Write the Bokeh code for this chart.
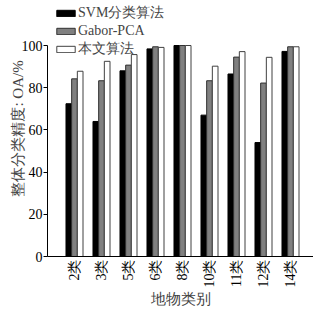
from bokeh.plotting import figure
from bokeh.models import ColumnDataSource, Range1d, FixedTicker, Legend, LegendItem
from bokeh.embed import file_html
from bokeh.resources import INLINE
import math

categories = ["2类", "3类", "5类", "6类", "8类", "10类", "11类", "12类", "14类"]
svm = [72.4, 64.0, 88.0, 98.4, 100.0, 67.0, 86.5, 54.0, 97.2]
gabor = [84.2, 83.3, 90.7, 99.4, 100.0, 83.3, 94.5, 82.2, 99.4]
ours = [87.8, 92.5, 95.7, 99.1, 100.0, 90.2, 97.1, 94.4, 99.4]
series_names = ["SVM分类算法", "Gabor-PCA", "本文算法"]
y_ticks = [0, 20, 40, 60, 80, 100]
x_title = "地物类别"
y_title = "整体分类精度: OA/%"

pos = list(range(1, len(categories) + 1))
bw = 0.21
src = ColumnDataSource(dict(
    x0=[p - bw for p in pos], x1=pos, x2=[p + bw for p in pos],
    svm=svm, gabor=gabor, ours=ours))

FONT = "Liberation Serif"

W_FIG = 313
H_FIG = 309
B_LEFT = 47
B_BOTTOM = 53
frame_h = H_FIG - B_BOTTOM          # 256
frame_w = W_FIG - B_LEFT            # 266
px_per_unit = 211.0 / 100.0
ymax = frame_h / px_per_unit
xmax = frame_w / 27.0

p = figure(width=W_FIG, height=H_FIG, output_backend="svg", toolbar_location=None,
           x_range=Range1d(0, xmax), y_range=Range1d(0, ymax),
           min_border_left=B_LEFT, min_border_top=0, min_border_bottom=B_BOTTOM, min_border_right=0)
p.outline_line_color = None
p.xgrid.visible = False
p.ygrid.visible = False
p.background_fill_color = "white"
p.border_fill_color = "white"

r1 = p.vbar(x="x0", top="svm", width=bw, source=src, fill_color="black", line_color="black", line_width=1)
r2 = p.vbar(x="x1", top="gabor", width=bw, source=src, fill_color="#808080", line_color="#303030", line_width=1)
r3 = p.vbar(x="x2", top="ours", width=bw, source=src, fill_color="white", line_color="#404040", line_width=1)

# y axis
ya = p.yaxis[0]
ya.ticker = FixedTicker(ticks=y_ticks)
ya.bounds = (0, 100)
ya.minor_tick_line_color = None
ya.major_tick_in = 0
ya.major_tick_out = 4
ya.major_label_standoff = 1
ya.major_label_text_font = FONT
ya.major_label_text_font_size = "14px"
ya.major_label_text_color = "black"
ya.axis_line_color = "black"
ya.axis_label = y_title
ya.axis_label_text_font = FONT
ya.axis_label_text_font_size = "15px"
ya.axis_label_text_font_style = "normal"
ya.axis_label_standoff = -7

# x axis
xa = p.xaxis[0]
xa.ticker = FixedTicker(ticks=pos)
xa.major_label_overrides = {p_: c for p_, c in zip(pos, categories)}
xa.major_label_orientation = math.pi / 2
xa.minor_tick_line_color = None
xa.major_tick_in = 0
xa.major_tick_out = 0
xa.major_label_standoff = 3
xa.major_label_text_font = FONT
xa.major_label_text_font_size = "14px"
xa.major_label_text_color = "black"
xa.axis_line_color = "black"
xa.axis_label = x_title
xa.axis_label_text_font = FONT
xa.axis_label_text_font_size = "15px"
xa.axis_label_text_font_style = "normal"
xa.axis_label_standoff = 0

legend = Legend(items=[LegendItem(label=series_names[0], renderers=[r1]),
                       LegendItem(label=series_names[1], renderers=[r2]),
                       LegendItem(label=series_names[2], renderers=[r3])],
                location=(7, 198), padding=0, margin=0, spacing=1,
                border_line_color=None, background_fill_alpha=0,
                label_text_font=FONT, label_text_font_size="14px",
                label_height=15, glyph_width=23, glyph_height=8, label_standoff=1)
p.add_layout(legend, "center")

open("out.html", "w").write(file_html(p, INLINE))
